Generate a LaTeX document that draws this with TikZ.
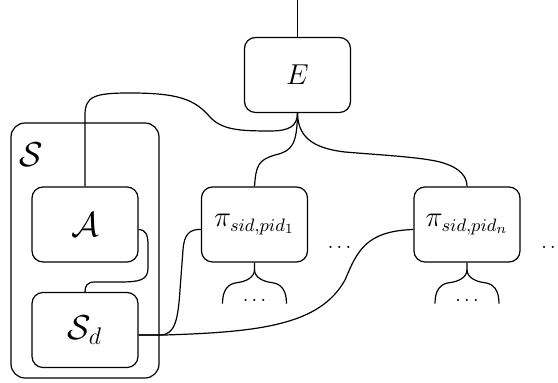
\documentclass[tikz,border=0pt]{standalone}
\usepackage{tikz}
\usetikzlibrary{positioning}
\tikzset{
mybox/.style={
  draw,
  rounded corners=5.5pt,
  minimum width=53pt,
  minimum height=37.5pt,
  inner sep=0pt
  },
myouter/.style={
  draw,
  rounded corners=7pt,
  minimum width=74pt,
  minimum height=127.5pt
  },
mytext/.style={font=\fontsize{13.5}{16}\selectfont}
}
\begin{document}
\begin{tikzpicture}[x=0.5pt,y=-0.5pt,line width=0.6pt]
\useasboundingbox (0,0) rectangle (558,383);
\node[myouter] (S) at (85,250.5) {};
\node (Slab) at (31,155) {\LARGE $\mathcal{S}$};
\node[mybox] (A) at (85,224.5) {\LARGE $\mathcal{A}$};
\node[mybox] (Sd) at (85,330) {\LARGE $\mathcal{S}_d$};
\node[mybox,mytext] (E) at (297.5,75) {$E$};
\node[mybox,mytext] (pi1) at (254.5,224.5) {$\pi_{sid,pid_1}$};
\node[mybox,mytext] (pin) at (467,224.5) {$\pi_{sid,pid_n}$};
\node (dots1) at (339.5,247) {$\dots$};
\node (dots2) at (553,247) {$\dots$};
\coordinate (top) at (297.5,0);

\draw (E.north) -- (top);
\draw (A.north) -- (85,115) .. controls (85,96) and (95,93) .. (130,93)
  .. controls (180,93) and (195,100) .. (210,117)
  .. controls (222,130) and (240,131) .. (270,131)
  .. controls (290,131) and (297,126) .. (E.south);
\draw (E.south) .. controls (297,145) and (292,151) .. (275,155)
  .. controls (258,160) and (256,166) .. (pi1.north);
\draw (E.south) .. controls (298,135) and (310,148) .. (345,152)
  .. controls (380,155) and (420,157) .. (440,162)
  .. controls (462,168) and (467,178) .. (pin.north);
\draw ([yshift=-2.5pt]A.east) .. controls (146,230) and (148,235) .. (148,245)
  -- (148,268) .. controls (148,280) and (140,282) .. (120,282)
  -- (95,282) .. controls (87,282) and (85,286) .. (Sd.north);
\draw ([yshift=-2.5pt]Sd.east) -- (160,335) .. controls (175,335) and (178,320) .. (180,290)
  -- (183,250) .. controls (184,234) and (190,229) .. ([yshift=-2.5pt]pi1.west);
\draw ([yshift=-2.5pt]Sd.east) -- (165,335) .. controls (260,332) and (320,325) .. (345,280)
  .. controls (357,252) and (365,231) .. ([yshift=-2.5pt]pin.west);

\foreach \p in {pi1,pin}{
  \draw (\p.south) -- ++(0,7) coordinate (\p-fork)
    .. controls +(0,8) and +(8,-1) .. ++(-17,13)
    .. controls +(-10,1) and +(0,-13) .. ++(-15,21) coordinate (\p-l);
  \draw (\p-fork)
    .. controls +(0,8) and +(-8,-1) .. ++(17,13)
    .. controls +(10,1) and +(0,-13) .. ++(15,21) coordinate (\p-r);
  \node (\p-dots) at ([yshift=-19pt]\p.south) {$\dots$};
}
\end{tikzpicture}
\end{document}
